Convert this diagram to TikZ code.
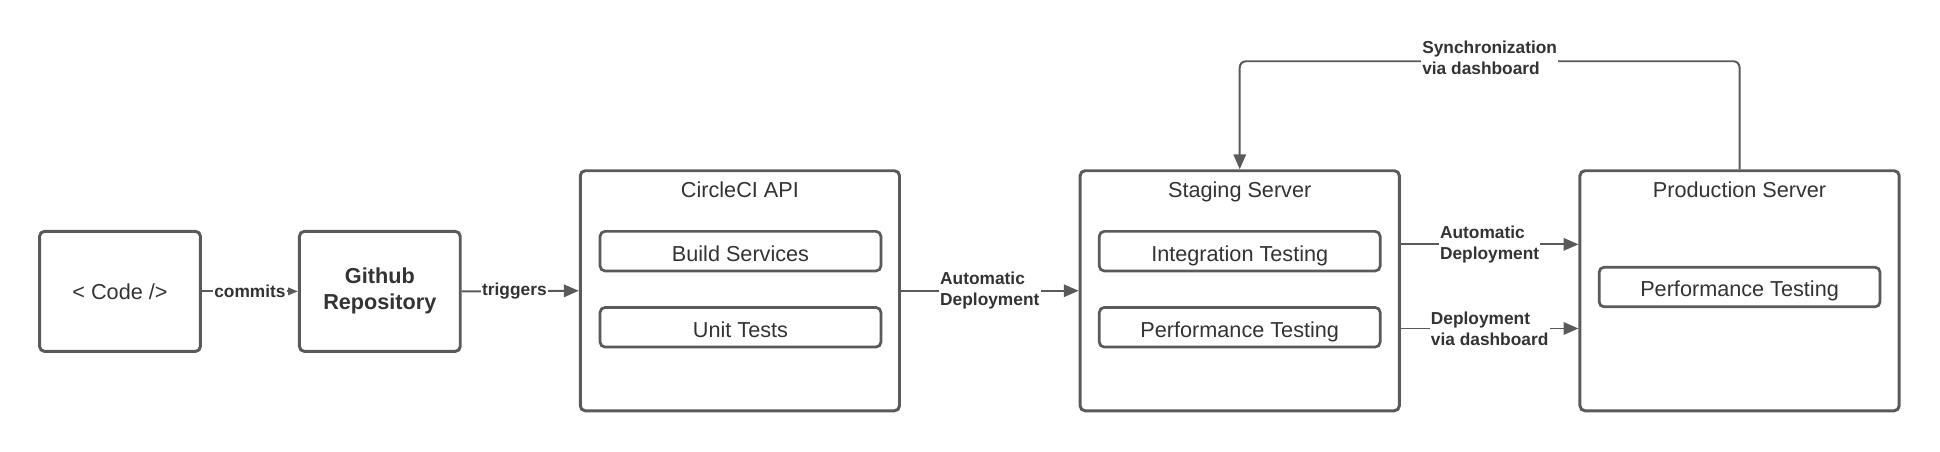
\documentclass[tikz,border=0pt]{standalone}
\usepackage{fontspec}
\setmainfont{Liberation Sans}
\usetikzlibrary{arrows.meta}
\definecolor{edge}{RGB}{90,90,90}
\definecolor{txt}{RGB}{51,51,51}
\begin{document}
\begin{tikzpicture}[x=1pt,y=-1pt,
  mainfont/.style={font=\fontsize{17.5}{21}\selectfont},
  smallbox/.style={draw=edge, line width=2.4pt, rounded corners=4pt, fill=white, text=txt, mainfont,
    minimum width=130pt, minimum height=97pt, inner sep=0pt, align=center},
  server/.style={draw=edge, line width=2.4pt, rounded corners=4pt, fill=white,
    minimum width=258pt, minimum height=194pt, inner sep=0pt},
  inner/.style={draw=edge, line width=2.2pt, rounded corners=4pt, fill=white, text=txt, mainfont,
    minimum width=227pt, minimum height=32pt, inner sep=0pt, text height=16pt, text depth=0pt},
  title/.style={text=txt, mainfont, inner sep=0pt, text height=12.6pt, text depth=0pt},
  conn/.style={draw=edge, line width=1.6pt, -{Triangle[length=12pt,width=10pt]}},
  smallconn/.style={draw=edge, line width=1.6pt, -{Triangle[length=8pt,width=6pt]}},
  lbl/.style={fill=white, text=txt, inner sep=1pt, align=left,
    font=\fontsize{14}{17}\selectfont\bfseries}
]
\useasboundingbox (0,0) rectangle (1568,364.6);

% left boxes
\node[smallbox] (code) at (97,235.5) {<\ Code\ />};
\node[smallbox, font=\fontsize{17.5}{21}\selectfont\bfseries] (github) at (307,235.5) {Github\\Repository};

% CircleCI
\node[server] (circle) at (598,235) {};
\node[title] (circlet) at (598,153) {CircleCI API};
\node[inner] (build) at (598.5,203) {Build Services};
\node[inner] (unit) at (598.5,264.5) {Unit Tests};

% Staging
\node[server] (staging) at (1002,235) {};
\node[title] (stagingt) at (1002,153) {Staging Server};
\node[inner] (integ) at (1002,203) {Integration Testing};
\node[inner] (sperf) at (1002,264.5) {Performance Testing};

% Production
\node[server] (prod) at (1406,235) {};
\node[title] (prodt) at (1406,153) {Production Server};
\node[inner] (pperf) at (1406,232) {Performance Testing};

% connectors
\draw[smallconn] (code.east) -- node[lbl] (commitsl) {commits} (github.west);
\draw[conn] (github.east) -- node[lbl, pos=0.45] (trigl) {triggers} (circle.west);
\draw[conn] (circle.east) -- node[lbl] (autol1) {Automatic\\Deployment} (staging.west);
\draw[conn] ([yshift=37.5pt]staging.east) -- node[lbl] (autol2) {Automatic\\Deployment} ([yshift=37.5pt]prod.west);
\draw[conn] ([yshift=-30.5pt]staging.east) -- node[lbl] (dashl) {Deployment\\via dashboard} ([yshift=-30.5pt]prod.west);

% synchronization loop
\coordinate (synctop) at (1204,49.5);
\draw[conn, rounded corners=5pt] (prod.north) |- (synctop) -| (staging.north);
\node[lbl] (syncl) at (1204,47) {Synchronization\\via dashboard};
\end{tikzpicture}
\end{document}
